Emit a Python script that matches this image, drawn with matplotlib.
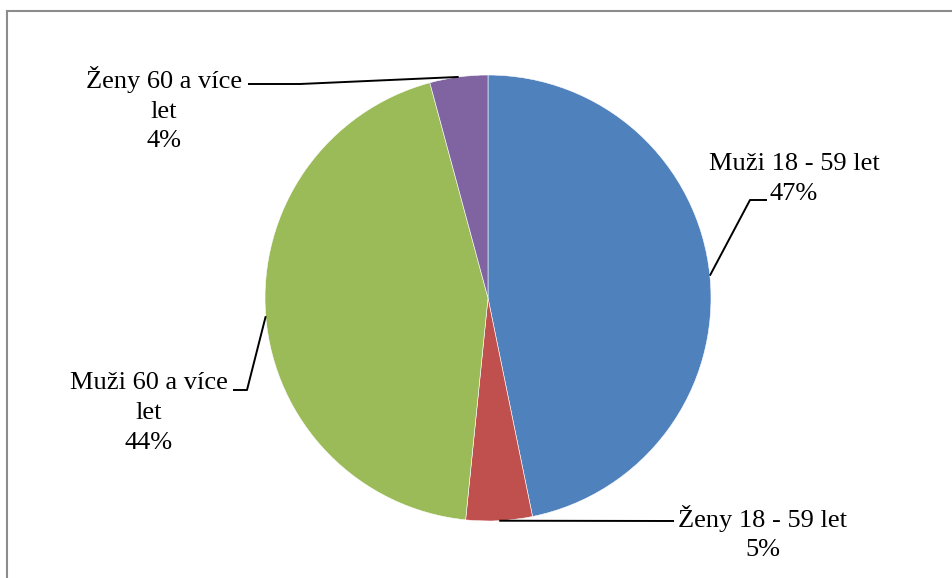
import textwrap
import numpy as np
import matplotlib
matplotlib.use('Agg')
import matplotlib.pyplot as plt
from matplotlib.lines import Line2D

# data
categories = ['Muži 18 - 59 let', 'Ženy 18 - 59 let', 'Muži 60 a více let', 'Ženy 60 a více let']
shares = [46.8, 4.8, 44.2, 4.2]
colors = ['#4F81BD', '#C0504D', '#9BBB59', '#8064A2']

W, H = 953, 578
cx, cy, radius = 488, H - 298, 223

# label layout (pixel coords, y measured from top)
label_pos = [(794, 179), (763, 533), (149, 413), (164, 109)]
leader_mid = [(750, 200), None, (247, 390), (300, 84)]
leader_end = [(767, 200), (674, 521), (233, 390), (248, 84)]
wrap_width = [20, 20, 14, 14]

plt.rcParams['font.family'] = ['Liberation Serif', 'DejaVu Serif']

fig = plt.figure(figsize=(W / 100, H / 100), dpi=100)
ax = fig.add_axes([0, 0, 1, 1])

wedges, _ = ax.pie(shares, colors=colors, startangle=90, counterclock=False,
                   center=(cx, cy), radius=radius,
                   wedgeprops=dict(edgecolor='white', linewidth=0.4))
ax.set_aspect('auto')
ax.set_xlim(0, W)
ax.set_ylim(0, H)
ax.axis('off')

total = sum(shares)
for i, w in enumerate(wedges):
    ang = np.deg2rad((w.theta1 + w.theta2) / 2)
    sx = cx + radius * np.cos(ang)
    sy = cy + radius * np.sin(ang)
    pts = [(sx, sy)]
    if leader_mid[i] is not None:
        pts.append((leader_mid[i][0], H - leader_mid[i][1]))
    pts.append((leader_end[i][0], H - leader_end[i][1]))
    xs = [p[0] for p in pts]
    ys = [p[1] for p in pts]
    ax.plot(xs, ys, color='black', lw=1.4, solid_capstyle='butt')

    pct = round(shares[i] / total * 100)
    txt = '\n'.join(textwrap.wrap(categories[i], wrap_width[i])) + '\n%d%%' % pct
    ax.text(label_pos[i][0], H - label_pos[i][1], txt, ha='center', va='center',
            multialignment='center', fontsize=19, linespacing=1.45, color='black')

# chart area frame (only top and left visible)
fig.add_artist(Line2D([7.5 / W, 1], [1 - 10.5 / H, 1 - 10.5 / H],
                      transform=fig.transFigure, color='#8C8C8C', lw=1.5))
fig.add_artist(Line2D([7.5 / W, 7.5 / W], [0, 1 - 10.5 / H],
                      transform=fig.transFigure, color='#8C8C8C', lw=1.5))

fig.savefig('out.png', dpi=100, facecolor='white')
